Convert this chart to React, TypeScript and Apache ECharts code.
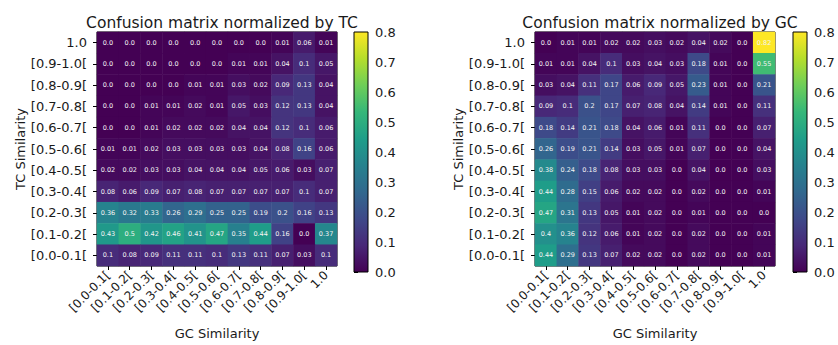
import React, { useEffect, useRef } from "react";
import * as echarts from "echarts";

const categories = ["[0.0-0.1[", "[0.1-0.2[", "[0.2-0.3[", "[0.3-0.4[", "[0.4-0.5[", "[0.5-0.6[", "[0.6-0.7[", "[0.7-0.8[", "[0.8-0.9[", "[0.9-1.0[", "1.0"];

// rows listed top (1.0) to bottom ([0.0-0.1[)
const tcRows: number[][] = [
  [0.0, 0.0, 0.0, 0.0, 0.0, 0.0, 0.0, 0.0, 0.01, 0.06, 0.01],
  [0.0, 0.0, 0.0, 0.0, 0.0, 0.0, 0.01, 0.01, 0.04, 0.1, 0.05],
  [0.0, 0.0, 0.0, 0.0, 0.01, 0.01, 0.03, 0.02, 0.09, 0.13, 0.04],
  [0.0, 0.0, 0.01, 0.01, 0.02, 0.01, 0.05, 0.03, 0.12, 0.13, 0.04],
  [0.0, 0.0, 0.01, 0.02, 0.02, 0.02, 0.04, 0.04, 0.12, 0.1, 0.06],
  [0.01, 0.01, 0.02, 0.03, 0.03, 0.03, 0.03, 0.04, 0.08, 0.16, 0.06],
  [0.02, 0.02, 0.03, 0.03, 0.04, 0.04, 0.04, 0.05, 0.06, 0.03, 0.07],
  [0.08, 0.06, 0.09, 0.07, 0.08, 0.07, 0.07, 0.07, 0.07, 0.1, 0.07],
  [0.36, 0.32, 0.33, 0.26, 0.29, 0.25, 0.25, 0.19, 0.2, 0.16, 0.13],
  [0.43, 0.5, 0.42, 0.46, 0.41, 0.47, 0.35, 0.44, 0.16, 0.0, 0.37],
  [0.1, 0.08, 0.09, 0.11, 0.11, 0.1, 0.13, 0.11, 0.07, 0.03, 0.1],
];

const gcRows: number[][] = [
  [0.0, 0.01, 0.01, 0.02, 0.02, 0.03, 0.02, 0.04, 0.02, 0.0, 0.82],
  [0.01, 0.01, 0.04, 0.1, 0.03, 0.04, 0.03, 0.18, 0.01, 0.0, 0.55],
  [0.03, 0.04, 0.11, 0.17, 0.06, 0.09, 0.05, 0.23, 0.01, 0.0, 0.21],
  [0.09, 0.1, 0.2, 0.17, 0.07, 0.08, 0.04, 0.14, 0.01, 0.0, 0.11],
  [0.18, 0.14, 0.21, 0.18, 0.04, 0.06, 0.01, 0.11, 0.0, 0.0, 0.07],
  [0.26, 0.19, 0.21, 0.14, 0.03, 0.05, 0.01, 0.07, 0.0, 0.0, 0.04],
  [0.38, 0.24, 0.18, 0.08, 0.03, 0.03, 0.0, 0.04, 0.0, 0.0, 0.03],
  [0.44, 0.28, 0.15, 0.06, 0.02, 0.02, 0.0, 0.02, 0.0, 0.0, 0.01],
  [0.47, 0.31, 0.13, 0.05, 0.01, 0.02, 0.0, 0.01, 0.0, 0.0, 0.0],
  [0.4, 0.36, 0.12, 0.06, 0.01, 0.02, 0.0, 0.02, 0.0, 0.0, 0.01],
  [0.44, 0.29, 0.13, 0.07, 0.02, 0.02, 0.0, 0.02, 0.0, 0.0, 0.01],
];

const titles = ["Confusion matrix normalized by TC", "Confusion matrix normalized by GC"];
const colorbarTicks = [0, 0.1, 0.2, 0.3, 0.4, 0.5, 0.6, 0.7, 0.8];

const viridis = ["#440154", "#482878", "#3e4989", "#31688e", "#26828e", "#1f9e89", "#35b779", "#6ece58", "#b5de2b", "#fde725"];

const FONT = "DejaVu Sans";
const TEXT = "#1a1a1a";

function toData(rows: number[][]) {
  const out: number[][] = [];
  const n = rows.length;
  rows.forEach((row, r) => {
    row.forEach((v, c) => {
      out.push([c, n - 1 - r, v]);
    });
  });
  return out;
}

function fmt(v: number) {
  const t = v * 10;
  if (Math.abs(t - Math.round(t)) < 1e-9) return v.toFixed(1);
  return v.toFixed(2);
}

export default function App() {
  const ref = useRef<HTMLDivElement>(null);
  useEffect(() => {
    if (!ref.current) return;
    const chart = echarts.init(ref.current, null, { renderer: "svg" });
    const plotLefts = [97, 535];
    const barLefts = [354, 793];
    const top = 32;
    const size = 240;
    const grids: any[] = [];
    const xAxes: any[] = [];
    const yAxes: any[] = [];
    const series: any[] = [];
    const visualMaps: any[] = [];
    const graphics: any[] = [];
    const titleArr: any[] = [];
    const datasets = [tcRows, gcRows];

    datasets.forEach((rows, i) => {
      grids.push({
        left: plotLefts[i], top, width: size, height: size,
        show: true, borderColor: "#000", borderWidth: 1, backgroundColor: "transparent",
      });
      xAxes.push({
        type: "category", gridIndex: 2 * i, data: categories,
        name: "GC Similarity", nameLocation: "middle", nameGap: 61,
        nameTextStyle: { fontFamily: FONT, fontSize: 13, color: TEXT },
        axisLine: { show: false },
        axisTick: { show: true, alignWithLabel: true, length: 4, lineStyle: { color: "#000" } },
        axisLabel: { rotate: 45, fontFamily: FONT, fontSize: 12, color: TEXT, margin: 7, interval: 0 },
        splitLine: { show: false },
      });
      yAxes.push({
        type: "category", gridIndex: 2 * i, data: categories,
        name: "TC Similarity", nameLocation: "middle", nameGap: 67, nameRotate: 90,
        nameTextStyle: { fontFamily: FONT, fontSize: 13, color: TEXT },
        axisLine: { show: false },
        axisTick: { show: true, alignWithLabel: true, length: 4, lineStyle: { color: "#000" } },
        axisLabel: { fontFamily: FONT, fontSize: 13, color: TEXT, margin: 10, interval: 0 },
        splitLine: { show: false },
      });
      // colorbar grid
      grids.push({
        left: barLefts[i], top, width: 14, height: size,
        show: true, borderColor: "#000", borderWidth: 1, backgroundColor: "transparent", z: 3,
      });
      xAxes.push({ type: "value", gridIndex: 2 * i + 1, show: false, min: 0, max: 1 });
      yAxes.push({
        type: "value", gridIndex: 2 * i + 1, min: 0, max: 0.8, interval: 0.1, position: "right",
        axisLine: { show: false },
        axisTick: { show: true, length: 4, lineStyle: { color: "#000" } },
        axisLabel: {
          fontFamily: FONT, fontSize: 13, color: TEXT, margin: 7,
          formatter: (v: number) => (colorbarTicks.some((t) => Math.abs(t - v) < 1e-9) ? v.toFixed(1) : ""),
        },
        splitLine: { show: false },
      });
      graphics.push({
        type: "rect", left: barLefts[i], top, z: 1,
        shape: { width: 14, height: size },
        style: {
          fill: new echarts.graphic.LinearGradient(0, 1, 0, 0,
            viridis.map((c, k) => ({ offset: k / (viridis.length - 1), color: c }))),
        },
      });
      visualMaps.push({
        type: "continuous", show: false, seriesIndex: i, dimension: 2,
        min: 0, max: 0.8, inRange: { color: viridis }, outOfRange: { color: ["#fde725"] },
      });
      series.push({
        type: "heatmap", xAxisIndex: 2 * i, yAxisIndex: 2 * i,
        data: toData(rows),
        label: {
          show: true, fontFamily: FONT, fontSize: 6.5, color: "#f4f4f4",
          formatter: (p: any) => fmt(p.value[2]),
        },
        itemStyle: { borderWidth: 0 },
        emphasis: { disabled: true },
      });
      titleArr.push({
        text: titles[i], left: plotLefts[i] + size / 2, top: 10, textAlign: "center",
        textStyle: { fontFamily: FONT, fontSize: 15.5, fontWeight: "normal", color: TEXT },
      });
    });

    chart.setOption({
      animation: false,
      backgroundColor: "#fff",
      title: titleArr,
      grid: grids,
      xAxis: xAxes,
      yAxis: yAxes,
      visualMap: visualMaps,
      series,
      graphic: graphics,
    });
    return () => chart.dispose();
  }, []);
  return <div ref={ref} style={{ position: "fixed", left: 0, top: 0, width: 838, height: 345 }} />;
}
